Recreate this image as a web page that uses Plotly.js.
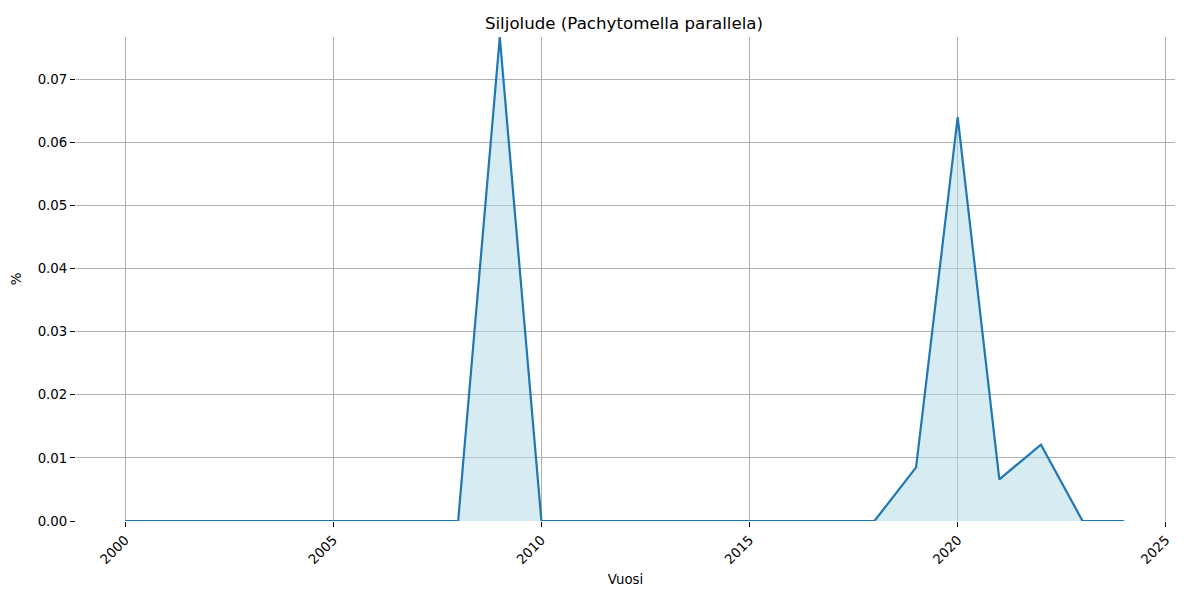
<!DOCTYPE html>
<html><head><meta charset="utf-8">
<script src="https://cdn.plot.ly/plotly-3.0.1.min.js"></script>
<style>html,body{margin:0;padding:0;background:#fff}</style>
</head><body>
<div id="chart" style="width:1200px;height:600px"></div>
<script>
const years = [2000,2001,2002,2003,2004,2005,2006,2007,2008,2009,2010,2011,2012,2013,2014,2015,2016,2017,2018,2019,2020,2021,2022,2023,2024];
const values = [0,0,0,0,0,0,0,0,0,0.0767,0,0,0,0,0,0,0,0,0,0.0085,0.064,0.0066,0.0121,0,0];
const xTicks = [2000,2005,2010,2015,2020,2025];
const chartTitle = "Siljolude (Pachytomella parallela)";
const xLabel = "Vuosi";
const yLabel = "%";

const font = {family: "DejaVu Sans, sans-serif", size: 13.33, color: "#000"};
Plotly.newPlot("chart", [{
  x: years, y: values, type: "scatter", mode: "lines",
  fill: "tozeroy", fillcolor: "rgba(173,216,230,0.5)",
  line: {color: "#1f77b4", width: 2.2},
  hoverinfo: "x+y"
}], {
  width: 1200, height: 600,
  margin: {l: 76, r: 25, t: 37, b: 79},
  paper_bgcolor: "#fff", plot_bgcolor: "#fff",
  font: font,
  showlegend: false,
  title: {text: chartTitle, x: 0.52, xanchor: "center", y: 0.962, yanchor: "middle", font: {family: font.family, size: 16.67, color: "#000"}},
  xaxis: {
    range: [1998.82, 2025.22], tickvals: xTicks, ticktext: xTicks.map(String),
    tickangle: -45, ticks: "outside", ticklen: 5, tickcolor: "#000",
    showgrid: true, gridcolor: "#b0b0b0", gridwidth: 1,
    zeroline: false, showline: false,
    title: {text: xLabel, font: {family: font.family, size: 13.33}, standoff: 8},
    tickfont: {family: font.family, size: 13.33}
  },
  yaxis: {
    range: [0, 0.0767], dtick: 0.01, tick0: 0, tickformat: ".2f",
    ticks: "outside", ticklen: 5, tickcolor: "#000",
    showgrid: true, gridcolor: "#b0b0b0", gridwidth: 1,
    zeroline: false, showline: false,
    title: {text: yLabel, font: {family: font.family, size: 13.33}, standoff: 12},
    tickfont: {family: font.family, size: 13.33}
  }
}, {displayModeBar: false});
</script>
</body></html>
